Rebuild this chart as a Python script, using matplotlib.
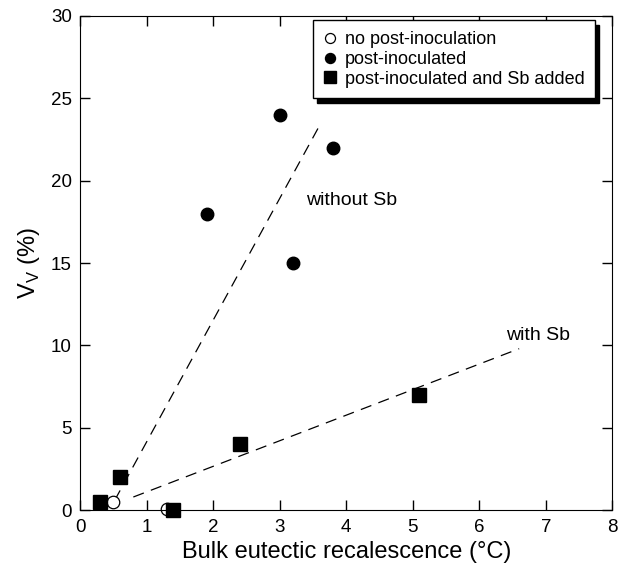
import matplotlib
matplotlib.use('Agg')
import matplotlib.pyplot as plt

plt.rcParams['font.family'] = ['Liberation Sans', 'DejaVu Sans']
plt.rcParams['mathtext.fontset'] = 'custom'
plt.rcParams['mathtext.rm'] = 'Liberation Sans'

# data
open_x = [0.5, 1.3]
open_y = [0.5, 0.1]
filled_x = [1.9, 3.0, 3.8, 3.2]
filled_y = [18, 24, 22, 15]
square_x = [0.3, 0.6, 1.4, 2.4, 5.1]
square_y = [0.5, 2, 0, 4, 7]

# trend lines (end points)
nosb_x = [0.52, 3.58]
nosb_y = [0.6, 23.2]
sb_x = [0.8, 6.6]
sb_y = [0.8, 9.8]

fig = plt.figure(figsize=(6.21, 5.65), dpi=100)
ax = fig.add_axes([0.129, 0.097, 0.857, 0.875])

ax.plot(nosb_x, nosb_y, 'k', lw=0.9, dashes=(9, 6))
ax.plot(sb_x, sb_y, 'k', lw=0.9, dashes=(9, 6))

ax.plot(open_x, open_y, 'o', mfc='white', mec='black', ms=9, mew=0.9,
        label='no post-inoculation', clip_on=False)
ax.plot(filled_x, filled_y, 'o', color='black', ms=9,
        label='post-inoculated')
ax.plot(square_x, square_y, 's', color='black', ms=10,
        label='post-inoculated and Sb added', clip_on=False)

ax.text(3.39, 18.8, 'without Sb', fontsize=14, va='center')
ax.text(6.4, 10.6, 'with Sb', fontsize=14, va='center')

ax.set_xlim(0, 8)
ax.set_ylim(0, 30)
ax.set_xticks(range(0, 9))
ax.set_yticks(range(0, 31, 5))
ax.tick_params(direction='in', top=True, right=True, labelsize=13.5,
               length=7, width=1, pad=6)
ax.set_xlabel('Bulk eutectic recalescence (°C)', fontsize=17, labelpad=4)
ax.set_ylabel(r'V$_\mathrm{V}$ (%)', fontsize=17, labelpad=6)

leg = ax.legend(loc='upper right', bbox_to_anchor=(0.985, 1.009), fontsize=13,
                fancybox=False, shadow={'color': 'black', 'alpha': 1, 'ox': 3, 'oy': -3},
                edgecolor='black', framealpha=1, handlelength=0.7,
                handletextpad=0.45, borderpad=0.6, labelspacing=0.15,
                markerscale=0.8)
leg.get_frame().set_linewidth(1.0)

fig.savefig('out.png', dpi=100)
